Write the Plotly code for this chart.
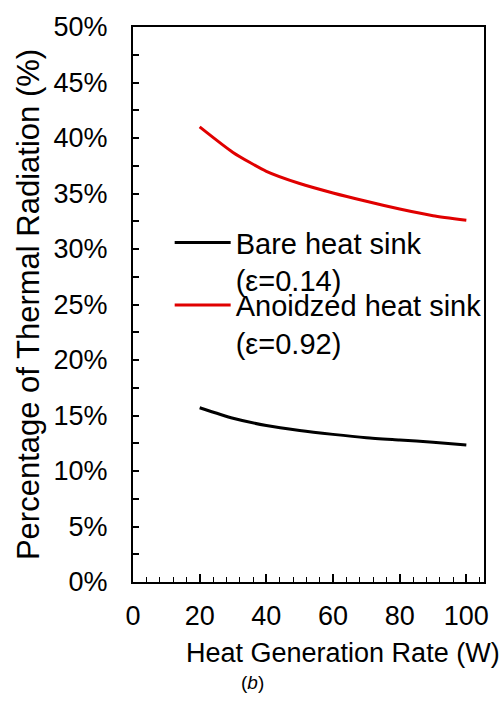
import plotly.graph_objects as go

# Heat generation rate (W)
heat_rate = [20, 30, 40, 50, 60, 70, 80, 90, 100]

# Share of heat removed by thermal radiation (%)
bare_sink = [15.7, 14.75, 14.1, 13.65, 13.3, 13.0, 12.8, 12.6, 12.35]
anodized_sink = [41.0, 38.7, 37.0, 35.9, 35.05, 34.3, 33.6, 33.0, 32.6]

series_names = ["Bare heat sink<br>(ε=0.14)", "Anoidzed heat sink<br>(ε=0.92)"]
series_colors = ["#000000", "#e00000"]
series_legends = ["legend", "legend2"]

y_tick_values = [0, 5, 10, 15, 20, 25, 30, 35, 40, 45, 50]
y_tick_labels = [f"{v}%" for v in y_tick_values]
x_tick_values = [0, 20, 40, 60, 80, 100]

FONT = "Liberation Sans, Arial, sans-serif"

fig = go.Figure()
for name, color, values, lg in zip(series_names, series_colors,
                                   [bare_sink, anodized_sink], series_legends):
    fig.add_trace(go.Scatter(
        x=heat_rate, y=values, name=name, mode="lines", legend=lg,
        line=dict(color=color, width=3, shape="spline", smoothing=0.6),
    ))

legend_style = dict(
    xanchor="left", yanchor="top",
    bgcolor="rgba(0,0,0,0)", borderwidth=0,
    font=dict(family=FONT, size=29, color="#000000"),
    valign="top", tracegroupgap=0, itemwidth=56,
)

fig.update_layout(
    width=504, height=709,
    margin=dict(l=133, r=20, t=23, b=127),
    plot_bgcolor="white", paper_bgcolor="white",
    font=dict(family=FONT, color="#000000", size=27),
    showlegend=True,
    legend=dict(x=0.1045, y=0.6574, **legend_style),
    legend2=dict(x=0.1045, y=0.5447, **legend_style),
    xaxis=dict(
        range=[0, 105.3], tickvals=x_tick_values,
        ticks="inside", ticklen=8, tickwidth=1.5, tickcolor="#000000",
        minor=dict(dtick=4, tick0=0, ticks="inside", ticklen=5, tickwidth=1.2, tickcolor="#000000"),
        showline=True, linecolor="#000000", linewidth=2, mirror=True,
        showgrid=False, zeroline=False,
        tickfont=dict(size=27), ticklabelstandoff=9,
    ),
    yaxis=dict(
        range=[0, 50], tickvals=y_tick_values, ticktext=y_tick_labels,
        ticks="inside", ticklen=6, tickwidth=1.5, tickcolor="#000000",
        minor=dict(dtick=2.5, tick0=0, ticks="inside", ticklen=6, tickwidth=1.5, tickcolor="#000000"),
        showline=True, linecolor="#000000", linewidth=2, mirror=True,
        showgrid=False, zeroline=False,
        tickfont=dict(size=27), ticklabelstandoff=18,
        title=dict(text="Percentage of Thermal Radiation (%)", font=dict(size=31), standoff=5),
    ),
    annotations=[
        dict(text="Heat Generation Rate (W)", xref="paper", yref="paper",
             x=0.599, y=-0.097, xanchor="center", yanchor="top",
             showarrow=False, font=dict(size=27)),
        dict(text="(<i>b</i>)", xref="paper", yref="paper",
             x=0.34, y=-0.158, xanchor="center", yanchor="top",
             showarrow=False, font=dict(size=19)),
    ],
)

fig.write_html("out.html")
